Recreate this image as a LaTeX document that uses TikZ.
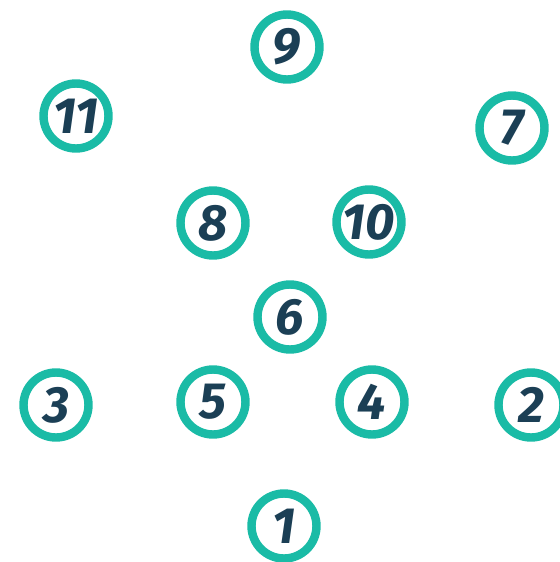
\documentclass[tikz,border=0pt]{standalone}
\usepackage{fontspec}
\setmainfont{Fira Sans}
\definecolor{ringteal}{HTML}{1ABBA6}
\definecolor{numnavy}{HTML}{1B3F55}

\begin{document}
\begin{tikzpicture}[
  x=0.02cm,y=-0.02cm,
  num/.style={circle,draw=ringteal,line width=4.8pt,fill=white,minimum size=1.3cm,inner sep=0pt,
    text=numnavy,font=\fontsize{29}{32}\selectfont\bfseries\itshape}
]
\useasboundingbox (0,0) rectangle (559,562);

\foreach \lbl/\x/\y in {9/287/47, 11/76/116, 7/512/128, 8/213/223, 10/369/222, 6/290/317,
                        3/56/405, 5/213/402, 4/372/402, 2/531/405, 1/284/526}{
  \node[num] (n\lbl) at (\x,\y) {\lbl};
}
\end{tikzpicture}
\end{document}
